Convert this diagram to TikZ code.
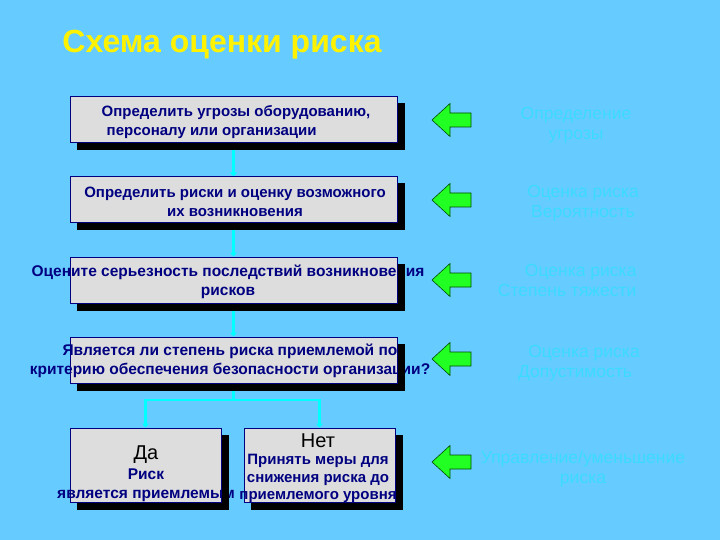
\documentclass[tikz,border=0pt]{standalone}
\usepackage{fontspec}
\setmainfont{Liberation Sans}
\usetikzlibrary{arrows.meta}
\definecolor{bgblue}{HTML}{66CCFF}
\definecolor{navy}{HTML}{000080}
\definecolor{boxgray}{HTML}{DDDDDD}
\definecolor{conncyan}{HTML}{00FFFF}
\definecolor{faint}{RGB}{60,218,255}
\definecolor{arrgreen}{HTML}{22FF22}
\pgfdeclarelayer{bg}
\pgfdeclarelayer{conn}
\pgfdeclarelayer{front}
\pgfsetlayers{bg,conn,main,front}
\tikzset{
  stepbox/.style={draw=navy, line width=1pt, fill=boxgray,
    minimum width=327pt, minimum height=46pt, inner sep=0pt},
  smallbox/.style={stepbox, minimum width=151pt, minimum height=74pt},
  boxtext/.style={align=center, text=navy, inner sep=0pt,
    font=\fontsize{15.5}{19}\selectfont\bfseries},
  boxtextsm/.style={boxtext, font=\fontsize{15}{19}\selectfont\bfseries},
  shadowfill/.style={fill=black},
  conn/.style={draw=conncyan, line width=2.5pt, -{Triangle[width=7pt,length=4pt]}},
  connplain/.style={draw=conncyan, line width=2.5pt},
  sidetext/.style={text=faint, align=center, font=\fontsize{17.5}{20}\selectfont},
  greenarrow/.style={fill=arrgreen, draw=black!70!green, line width=0.6pt}
}
\newcommand{\boxshadow}[1]{%
  \begin{pgfonlayer}{front}
  \fill[shadowfill] ([yshift=-7pt]#1.north east) rectangle ([xshift=7pt,yshift=-7pt]#1.south east);
  \fill[shadowfill] ([xshift=7pt]#1.south west) rectangle ([xshift=7pt,yshift=-7pt]#1.south east);
  \end{pgfonlayer}}
\begin{document}
\begin{tikzpicture}[x=1pt,y=-1pt]
\begin{pgfonlayer}{bg}
\fill[bgblue] (0,0) rectangle (720,540);
\end{pgfonlayer}
\useasboundingbox (0,0) rectangle (720,540);

\node[text=yellow, font=\fontsize{32}{34}\selectfont\bfseries] (title) at (222,45) {Схема оценки риска};

\node[stepbox] (b1) at (233.5,120) {};
\node[stepbox] (b2) at (233.5,200) {};
\node[stepbox] (b3) at (233.5,280) {};
\node[stepbox] (b4) at (233.5,360) {};
\node[smallbox] (b5) at (145.5,465) {};
\node[smallbox] (b6) at (319.5,465) {};
\foreach \b in {b1,b2,b3,b4,b5,b6}{\boxshadow{\b}}

\node[boxtextsm, align=left] (t1) at (236,122) {Определить угрозы оборудованию,\\\hspace*{5pt}персоналу или организации};
\node[boxtextsm] (t2) at (235,202) {Определить риски и оценку возможного\\их возникновения};
\node[boxtext] (t3) at (228,282) {Оцените серьезность последствий возникновения\\рисков};
\node[boxtext] (t4) at (230,361) {Является ли степень риска приемлемой по\\критерию обеспечения безопасности организации?};
\node[boxtext] (t5) at (146,474) {{\mdseries\color{black}\fontsize{20}{21}\selectfont Да}\\[1pt]Риск\\является приемлемым};
\node[boxtext, font=\fontsize{15}{17.5}\selectfont\bfseries] (t6) at (318,468) {{\mdseries\color{black}\fontsize{20}{17}\selectfont Нет}\\Принять меры для\\снижения риска до\\приемлемого уровня};

\coordinate (split) at (233.5,400);
\begin{pgfonlayer}{conn}
\draw[conn] (b1.south) -- (b2.north);
\draw[conn] (b2.south) -- (b3.north);
\draw[conn] (b3.south) -- (b4.north);
\draw[connplain] (b4.south) -- (split);
\draw[conn] (split) -| (b5.north);
\draw[conn] (split) -| (b6.north);
\end{pgfonlayer}

\foreach \yy in {120,200,280,359,462}{
  \draw[greenarrow] (432,\yy) -- (450,\yy-16.5) -- (450,\yy-7) -- (471,\yy-7)
     -- (471,\yy+7) -- (450,\yy+7) -- (450,\yy+16.5) -- cycle;
}

\node[sidetext] (s1) at (576,125) {Определение\\угрозы};
\node[sidetext] (s2) at (583,203) {Оценка риска\\Вероятность};
\node[sidetext, align=right, anchor=east] (s3) at (640,280) {Оценка риска\\Степень тяжести};
\node[sidetext] (s4) at (575,363) {\hspace*{18pt}Оценка риска\\Допустимость};
\node[sidetext] (s5) at (583,469) {Управление/уменьшение\\риска};
\end{tikzpicture}
\end{document}
